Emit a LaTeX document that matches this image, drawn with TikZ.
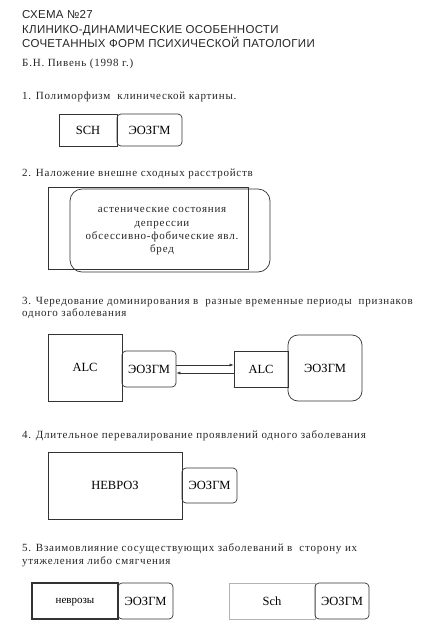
\documentclass[tikz,border=0pt]{standalone}
\usepackage{fontspec}
\setmainfont{Liberation Serif}
\newfontfamily\bodyfont[LetterSpace=7]{Liberation Serif}
\newfontfamily\titlefont[LetterSpace=2.5]{Liberation Sans}
\usetikzlibrary{arrows.meta}
\tikzset{
  txt/.style={anchor=base west, inner sep=0pt, font=\bodyfont\fontsize{11}{12}\selectfont, text=black!85},
  ttl/.style={anchor=base west, inner sep=0pt, font=\titlefont\fontsize{11.5}{13}\selectfont, text=black!85},
  sqbox/.style={draw=black!80, line width=0.7pt, inner sep=0pt, text height=8.5pt, text depth=0pt, font=\fontsize{12.5}{14}\selectfont},
  rbox/.style={draw=black!80, line width=0.7pt, rounded corners=4pt, inner sep=0pt, text height=8.5pt, text depth=0pt, font=\fontsize{12.5}{14}\selectfont},
  inltxt/.style={inner sep=0pt, align=center, font=\bodyfont\fontsize{11}{13.3}\selectfont, text=black!85},
  arr/.style={-{Latex[length=4pt,width=3pt]}, line width=0.6pt, black!80}
}
\begin{document}
\begin{tikzpicture}[x=1pt,y=-1pt]
\useasboundingbox[fill=white] (0,0) rectangle (430,637);
% titles
\node[ttl] (t1) at (22,19) {СХЕМА №27};
\node[ttl] (t2) at (22,33) {КЛИНИКО-ДИНАМИЧЕСКИЕ ОСОБЕННОСТИ};
\node[ttl] (t3) at (22,47) {СОЧЕТАННЫХ ФОРМ ПСИХИЧЕСКОЙ ПАТОЛОГИИ};
\node[txt] (au) at (22,66) {Б.Н. Пивень (1998 г.)};
% section 1
\node[txt] (s1) at (22,99) {1. Полиморфизм\ \ клинической картины.};
\node[sqbox, minimum width=58, minimum height=32] (b1a) at (88,130) {SCH};
\node[rbox, minimum width=65, minimum height=32] (b1b) at (149.5,130) {ЭОЗГМ};
% section 2
\node[txt] (s2) at (22,176) {2. Наложение внешне сходных расстройств};
\node[sqbox, minimum width=200, minimum height=82] (b2a) at (148,228) {};
\node[rbox, rounded corners=12pt, minimum width=200, minimum height=83] (b2b) at (170,230.5) {};
\node[inltxt] (b2t) at (162,231.5) {астенические состояния\\депрессии\\обсессивно-фобические явл.\\бред};
% section 3
\node[txt] (s3a) at (22,304) {3. Чередование доминирования в\ \ разные временные периоды\ \ признаков};
\node[txt] (s3b) at (22,316) {одного заболевания};
\node[sqbox, minimum width=74, minimum height=67] (b3a) at (85,367.5) {ALC};
\node[rbox, minimum width=54, minimum height=36] (b3b) at (149,369) {ЭОЗГМ};
\node[sqbox, minimum width=54, minimum height=36] (b3c) at (261,369) {ALC};
\node[rbox, rounded corners=10pt, minimum width=74, minimum height=66] (b3d) at (325,368) {ЭОЗГМ};
\draw[arr] ([yshift=4pt]b3b.east) -- ([yshift=4pt]b3c.west);
\draw[arr] ([yshift=-4pt]b3c.west) -- ([yshift=-4pt]b3b.east);
% section 4
\node[txt] (s4) at (22,438) {4. Длительное перевалирование проявлений одного заболевания};
\node[sqbox, minimum width=134, minimum height=67] (b4a) at (115,485.5) {НЕВРОЗ};
\node[rbox, minimum width=55, minimum height=35] (b4b) at (209.5,485.5) {ЭОЗГМ};
% section 5
\node[txt] (s5a) at (22,551) {5. Взаимовлияние сосуществующих заболеваний в\ \ сторону их};
\node[txt] (s5b) at (22,564) {утяжеления либо смягчения};
\node[sqbox, line width=1.6pt, minimum width=86, minimum height=36, text height=5pt, font=\fontsize{11}{12}\selectfont] (b5a) at (75,601) {неврозы};
\node[rbox, minimum width=55, minimum height=36] (b5b) at (145.5,601) {ЭОЗГМ};
\node[sqbox, draw=black!30, minimum width=86, minimum height=36] (b5c) at (272,601) {Sch};
\node[rbox, minimum width=54, minimum height=36] (b5d) at (342,601) {ЭОЗГМ};
\end{tikzpicture}
\end{document}
